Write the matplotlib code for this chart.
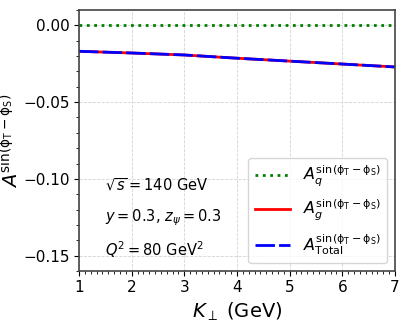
import matplotlib
matplotlib.use("Agg")
import matplotlib.pyplot as plt
import numpy as np
from matplotlib.ticker import AutoMinorLocator

k_perp = [1, 2, 3, 4, 5, 6, 7]
A_q = [0.0, 0.0, 0.0, 0.0, 0.0, 0.0, 0.0]
A_g = [-0.0169, -0.0180, -0.0193, -0.0214, -0.0233, -0.0252, -0.0271]
A_total = [-0.0169, -0.0180, -0.0193, -0.0214, -0.0233, -0.0252, -0.0271]

fig = plt.figure(figsize=(4.09, 3.27), dpi=100)
ax = fig.add_axes([79/409, 1-271/327, (395-79)/409, (271-10)/327])

ax.plot(k_perp, A_q, ':', color='green', lw=2, label=r'$A_q^{\sin(\mathrm{\phi_T}-\mathrm{\phi_S})}$')
ax.plot(k_perp, A_g, '-', color='red', lw=2, label=r'$A_g^{\sin(\mathrm{\phi_T}-\mathrm{\phi_S})}$')
ax.plot(k_perp, A_total, '--', color='blue', lw=2, dashes=(7, 1.5),
        label=r'$A_{\mathrm{Total}}^{\sin(\mathrm{\phi_T}-\mathrm{\phi_S})}$')

ax.set_xlim(1, 7)
ax.set_ylim(-0.16, 0.01)
ax.set_xticks([1, 2, 3, 4, 5, 6, 7])
ax.set_yticks([0.0, -0.05, -0.10, -0.15])
ax.set_yticklabels(['0.00', '−0.05', '−0.10', '−0.15'])
ax.xaxis.set_minor_locator(AutoMinorLocator(9))
ax.yaxis.set_minor_locator(AutoMinorLocator(5))
ax.tick_params(which='both', direction='out', labelsize=11)
ax.tick_params(which='major', length=3.5, pad=3)
ax.tick_params(which='minor', length=2)
ax.grid(True, ls='--', color='lightgray', lw=0.6)
for s in ax.spines.values():
    s.set_color('#444444')
    s.set_linewidth(1.2)

ax.set_xlabel(r'$K_\perp$ (GeV)', fontsize=14)
ax.set_ylabel(r'$A^{\sin(\mathrm{\phi_T}-\mathrm{\phi_S})}$', fontsize=14)
ax.yaxis.set_label_coords(-0.18, 0.5)

ax.text(1.49, -0.104, r'$\sqrt{s}=140$ GeV', fontsize=10.5, va='center')
ax.text(1.49, -0.125, r'$y=0.3$, $z_\psi=0.3$', fontsize=10.5, va='center')
ax.text(1.49, -0.146, r'$Q^2=80$ GeV$^2$', fontsize=10.5, va='center')

leg = ax.legend(loc='lower right', fontsize=11.5, handlelength=2.2, labelspacing=0.55)

fig.savefig('out.png', dpi=100)
